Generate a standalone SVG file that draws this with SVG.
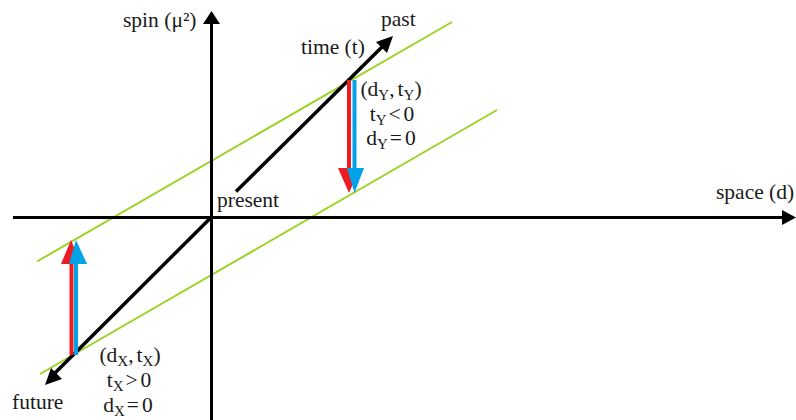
<svg xmlns="http://www.w3.org/2000/svg" width="796" height="420" viewBox="0 0 796 420">
<style>
text{font-family:"Liberation Serif","Times New Roman",serif;font-size:21.5px;fill:#1a1a1a}
.sub{font-size:15px}
.axis{stroke:#000;stroke-width:3;fill:none}
.time{stroke:#000;stroke-width:3.5;fill:none}
.green{stroke:#99d426;stroke-width:2;fill:none}
.red{fill:#ec1c24}
.blue{fill:#00a2e8}
</style>
<rect width="796" height="420" fill="#fff"/>
<g id="connectors">
<line class="green" x1="37" y1="261.5" x2="452" y2="22"/>
<line class="green" x1="40" y1="374" x2="497" y2="110"/>
<line class="axis" x1="13" y1="217.5" x2="785" y2="217.5"/>
<polygon points="782,210 796,217.5 782,225" fill="#000"/>
<line class="axis" x1="211.5" y1="420" x2="211.5" y2="22"/>
<polygon points="203,24 211.5,11 220,24" fill="#000"/>
<line class="time" x1="52" y1="376" x2="210" y2="218.5"/>
<line class="time" x1="236" y1="191.5" x2="386" y2="43"/>
<polygon points="393,36 376,42 387,53" fill="#000"/>
<polygon points="45,385 62,379 51,368" fill="#000"/>
</g>
<g id="arrow-Y">
<rect class="red" x="347" y="80" width="4" height="90"/>
<polygon class="red" points="338,168 360,168 349,193"/>
<rect class="blue" x="352.5" y="80" width="4" height="90"/>
<polygon class="blue" points="347,168 364,168 354.5,193"/>
</g>
<g id="arrow-X">
<rect class="red" x="69.5" y="262" width="4" height="93"/>
<polygon class="red" points="61,264 81,264 71,240"/>
<rect class="blue" x="74" y="262" width="4" height="93"/>
<polygon class="blue" points="69,264 87,264 76,240"/>
</g>
<g id="labels">
<text x="123" y="27">spin (μ²)</text>
<text x="301" y="54">time (t)</text>
<text x="381" y="26">past</text>
<text x="217" y="207">present</text>
<text x="716" y="199">space (d)</text>
<text x="12" y="409">future</text>
</g>
<g id="point-Y">
<text x="391" y="96" text-anchor="middle">(d<tspan class="sub" dy="4">Y</tspan><tspan dy="-4">,</tspan><tspan dx="3">t</tspan><tspan class="sub" dy="4">Y</tspan><tspan dy="-4">)</tspan></text>
<text x="392" y="121" text-anchor="middle">t<tspan class="sub" dy="4">Y</tspan><tspan dy="-4" dx="2">&lt;</tspan><tspan dx="3">0</tspan></text>
<text x="391" y="145" text-anchor="middle">d<tspan class="sub" dy="4">Y</tspan><tspan dy="-4" dx="2">=</tspan><tspan dx="3">0</tspan></text>
</g>
<g id="point-X">
<text x="130" y="362" text-anchor="middle">(d<tspan class="sub" dy="4">X</tspan><tspan dy="-4">,</tspan><tspan dx="3">t</tspan><tspan class="sub" dy="4">X</tspan><tspan dy="-4">)</tspan></text>
<text x="129" y="387" text-anchor="middle">t<tspan class="sub" dy="4">X</tspan><tspan dy="-4" dx="2">&gt;</tspan><tspan dx="3">0</tspan></text>
<text x="128" y="412" text-anchor="middle">d<tspan class="sub" dy="4">X</tspan><tspan dy="-4" dx="2">=</tspan><tspan dx="3">0</tspan></text>
</g>
</svg>
